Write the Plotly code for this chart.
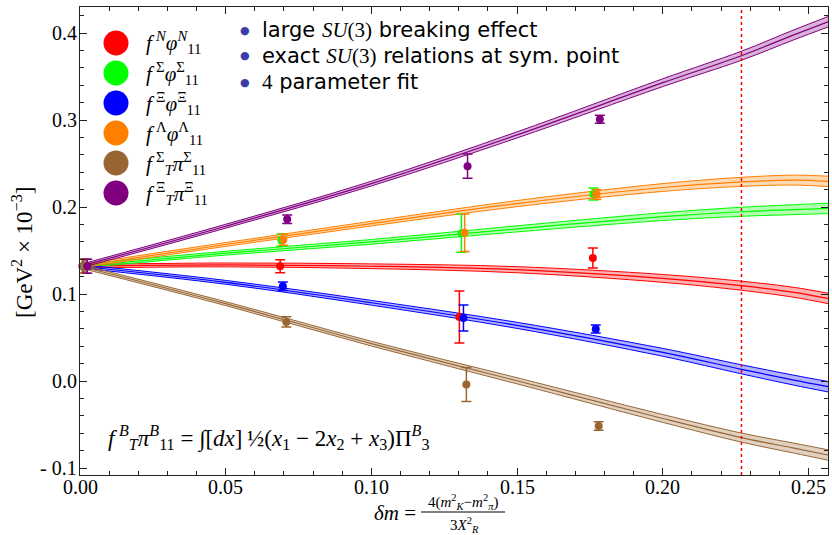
import plotly.graph_objects as go

# ---------------- data ----------------
# fit curves: central value sampled along delta m
fit_dm = [0.0, 0.05, 0.10, 0.15, 0.20, 0.227, 0.245, 0.2567]
fit_N      = [0.132, 0.1335, 0.132, 0.128, 0.118, 0.1096, 0.102, 0.095]
fit_Sigma  = [0.132, 0.147, 0.160, 0.175, 0.189, 0.1946, 0.197, 0.1985]
fit_Xi     = [0.132, 0.1135, 0.090, 0.064, 0.033, 0.0135, 0.001, -0.0065]
fit_Lambda = [0.132, 0.157, 0.181, 0.204, 0.2225, 0.229, 0.231, 0.2295]
fit_TSigma = [0.132, 0.089, 0.043, 0.0003, -0.043, -0.065, -0.0771, -0.085]
fit_TXi    = [0.132, 0.178, 0.227, 0.283, 0.343, 0.374, 0.398, 0.413]
band_halfwidth = [0.002, 0.0022, 0.0027, 0.0035, 0.0045, 0.0052, 0.0057, 0.006]

# lattice points (x slightly shifted per series as in the reference)
pts_dm_N      = [0.0008, 0.0687, 0.1302, 0.1760]
pts_N         = [0.132, 0.132, 0.0736, 0.1414]
err_N         = [0.008, 0.0075, 0.030, 0.0115]
pts_dm_Sigma  = [0.0012, 0.0691, 0.1309, 0.1762]
pts_Sigma     = [0.132, 0.162, 0.170, 0.215]
err_Sigma     = [0.008, 0.007, 0.022, 0.007]
pts_dm_Xi     = [0.0015, 0.0696, 0.1316, 0.1770]
pts_Xi        = [0.132, 0.109, 0.0724, 0.0598]
err_Xi        = [0.008, 0.005, 0.015, 0.0045]
pts_dm_Lambda = [0.0017, 0.0698, 0.1320, 0.1772]
pts_Lambda    = [0.132, 0.1625, 0.1705, 0.2146]
err_Lambda    = [0.008, 0.0065, 0.0215, 0.0055]
pts_dm_TSigma = [0.0021, 0.0708, 0.1326, 0.1780]
pts_TSigma    = [0.132, 0.068, -0.004, -0.0517]
err_TSigma    = [0.008, 0.006, 0.0195, 0.005]
pts_dm_TXi    = [0.0025, 0.0711, 0.1330, 0.1784]
pts_TXi       = [0.132, 0.186, 0.247, 0.301]
err_TXi       = [0.008, 0.005, 0.014, 0.0045]

physical_point = 0.227

TS = "\u2009"  # thin space so italic f does not collide with its superscript
legend_labels = [
    f"<i>f</i>{TS}<sup><i>N</i></sup><i>φ</i><sup><i>N</i></sup><sub>11</sub>",
    f"<i>f</i>{TS}<sup>Σ</sup><i>φ</i><sup>Σ</sup><sub>11</sub>",
    f"<i>f</i>{TS}<sup>Ξ</sup><i>φ</i><sup>Ξ</sup><sub>11</sub>",
    f"<i>f</i>{TS}<sup>Λ</sup><i>φ</i><sup>Λ</sup><sub>11</sub>",
    f"<i>f</i>{TS}<sup>Σ</sup><sub><i>T</i></sub><i>π</i><sup>Σ</sup><sub>11</sub>",
    f"<i>f</i>{TS}<sup>Ξ</sup><sub><i>T</i></sub><i>π</i><sup>Ξ</sup><sub>11</sub>",
]
colors = ["#ff0000", "#00ff00", "#0000ff", "#ff8000", "#996633", "#800080"]
fills = ["rgba(255,0,0,0.3)", "rgba(0,255,0,0.3)", "rgba(0,0,255,0.3)",
         "rgba(255,128,0,0.3)", "rgba(153,102,51,0.3)", "rgba(128,0,128,0.3)"]

MATH = "font-family:'Liberation Serif',serif"
notes = [f"large <span style=\"{MATH}\"><i>SU</i>(3)</span> breaking effect",
         f"exact <span style=\"{MATH}\"><i>SU</i>(3)</span> relations at sym. point",
         f"<span style=\"{MATH}\">4</span> parameter fit"]

x_tickvals = [0.0, 0.05, 0.10, 0.15, 0.20, 0.25]
x_ticktext = ["0.00", "0.05", "0.10", "0.15", "0.20", "0.25"]
y_tickvals = [-0.1, 0.0, 0.1, 0.2, 0.3, 0.4]
y_ticktext = ["- 0.1", "0.0", "0.1", "0.2", "0.3", "0.4"]

fits = [fit_N, fit_Sigma, fit_Xi, fit_Lambda, fit_TSigma, fit_TXi]
pts_x = [pts_dm_N, pts_dm_Sigma, pts_dm_Xi, pts_dm_Lambda, pts_dm_TSigma, pts_dm_TXi]
pts_y = [pts_N, pts_Sigma, pts_Xi, pts_Lambda, pts_TSigma, pts_TXi]
pts_e = [err_N, err_Sigma, err_Xi, err_Lambda, err_TSigma, err_TXi]

# ---------------- figure ----------------
W, H = 832, 535
ML, MR, MT, MB = 80, 4, 7, 60
PW, PH = W - ML - MR, H - MT - MB


def px(xp):
    return (xp - ML) / PW


def py(yp):
    return (H - MB - yp) / PH


SERIF = "Liberation Serif, Times New Roman, serif"
SANS = "DejaVu Sans, sans-serif"
fig = go.Figure()

for fit, col, fc in zip(fits, colors, fills):
    up = [c + h for c, h in zip(fit, band_halfwidth)]
    lo = [c - h for c, h in zip(fit, band_halfwidth)]
    fig.add_trace(go.Scatter(x=fit_dm, y=up, mode="lines",
                             line=dict(color=col, width=1, shape="spline"),
                             showlegend=False, hoverinfo="skip"))
    fig.add_trace(go.Scatter(x=fit_dm, y=lo, mode="lines", fill="tonexty",
                             fillcolor=fc,
                             line=dict(color=col, width=1, shape="spline"),
                             showlegend=False, hoverinfo="skip"))
    fig.add_trace(go.Scatter(x=fit_dm, y=fit, mode="lines",
                             line=dict(color=col, width=1.2, shape="spline"),
                             showlegend=False, hoverinfo="skip"))

for xs, ys, es, col in zip(pts_x, pts_y, pts_e, colors):
    fig.add_trace(go.Scatter(x=xs, y=ys, mode="markers",
                             marker=dict(color=col, size=8),
                             error_y=dict(type="data", array=es, color=col,
                                          thickness=1.5, width=5),
                             cliponaxis=False, showlegend=False))

fig.add_vline(x=physical_point, line=dict(color="red", width=1.5, dash="dot"))

shapes = []
annotations = []

# tick labels placed through the axes' own scales
for v, t in zip(x_tickvals, x_ticktext):
    annotations.append(dict(xref="x", yref="paper", x=v, y=py(487),
                            xanchor="center", yanchor="middle", showarrow=False,
                            text=t, font=dict(family=SERIF, size=20, color="black")))
for v, t in zip(y_tickvals, y_ticktext):
    annotations.append(dict(xref="paper", yref="y", x=px(79), y=v,
                            xanchor="right", yanchor="middle", showarrow=False,
                            text=t, font=dict(family=SERIF, size=20, color="black")))

# legend box
shapes.append(dict(type="rect", xref="paper", yref="paper",
                   x0=px(97), x1=px(220), y0=py(210), y1=py(27),
                   line=dict(color="black", width=1), fillcolor="white", layer="above"))
row_y = [43, 73, 103, 133, 163, 193]
for ry, col, lab in zip(row_y, colors, legend_labels):
    shapes.append(dict(type="circle", xref="paper", yref="paper",
                       x0=px(116 - 12.5), x1=px(116 + 12.5),
                       y0=py(ry + 12.5), y1=py(ry - 12.5),
                       fillcolor=col, line=dict(color=col, width=0), layer="above"))
    annotations.append(dict(xref="paper", yref="paper", x=px(144), y=py(ry),
                            xanchor="left", yanchor="middle", showarrow=False,
                            text=lab, font=dict(family=SERIF, size=21, color="black")))

# bullet notes
for i, t in enumerate(notes):
    yy = 30 + 26 * i
    annotations.append(dict(xref="paper", yref="paper", x=px(245), y=py(yy),
                            xanchor="center", yanchor="middle", showarrow=False,
                            text="●", font=dict(family="DejaVu Sans", size=11, color="#3c3ca8")))
    annotations.append(dict(xref="paper", yref="paper", x=px(260), y=py(yy),
                            xanchor="left", yanchor="middle", showarrow=False,
                            text=t, font=dict(family=SANS, size=21, color="black")))

# formula
annotations.append(dict(xref="paper", yref="paper", x=px(106), y=py(437),
                        xanchor="left", yanchor="middle", showarrow=False,
                        text=f"<i>f</i>{TS}<sup><i>B</i></sup><sub><i>T</i></sub><i>π</i><sup><i>B</i></sup><sub>11</sub> = ∫[<i>dx</i>]{TS}½(<i>x</i><sub>1</sub> − 2<i>x</i><sub>2</sub> + <i>x</i><sub>3</sub>)Π<sup><i>B</i></sup><sub>3</sub>",
                        font=dict(family=SERIF, size=23, color="black")))

# x-axis title (fraction)
annotations.append(dict(xref="paper", yref="paper", x=px(418), y=py(513),
                        xanchor="right", yanchor="middle", showarrow=False,
                        text="<i>δm</i> =", font=dict(family=SERIF, size=21, color="black")))
annotations.append(dict(xref="paper", yref="paper", x=px(463), y=py(502),
                        xanchor="center", yanchor="middle", showarrow=False,
                        text="4(<i>m</i><sup>2</sup><sub><i>K</i></sub>−<i>m</i><sup>2</sup><sub><i>π</i></sub>)",
                        font=dict(family=SERIF, size=15, color="black")))
shapes.append(dict(type="line", xref="paper", yref="paper",
                   x0=px(421), x1=px(505), y0=py(512), y1=py(512),
                   line=dict(color="black", width=1)))
annotations.append(dict(xref="paper", yref="paper", x=px(465), y=py(525),
                        xanchor="center", yanchor="middle", showarrow=False,
                        text="3<i>X</i><sup>2</sup><sub><i>R</i></sub>",
                        font=dict(family=SERIF, size=15, color="black")))

# y-axis title
annotations.append(dict(xref="paper", yref="paper", x=px(22), y=py(253),
                        xanchor="center", yanchor="middle", showarrow=False,
                        textangle=-90,
                        text="[GeV<sup>2</sup> × 10<sup>−3</sup>]",
                        font=dict(family=SERIF, size=23, color="black")))

axis_common = dict(showline=True, linecolor="#222", linewidth=1, mirror="allticks",
                   ticks="inside", ticklen=7, tickwidth=1, tickcolor="#222",
                   showgrid=False, zeroline=False, showticklabels=False)

fig.update_layout(
    width=W, height=H,
    margin=dict(l=ML, r=MR, t=MT, b=MB),
    paper_bgcolor="white", plot_bgcolor="white",
    showlegend=False,
    xaxis=dict(range=[0, 0.2567], tickmode="array", tickvals=x_tickvals,
               minor=dict(tickmode="linear", tick0=0, dtick=0.01, ticks="inside",
                          ticklen=4, tickcolor="#222", showgrid=False),
               **axis_common),
    yaxis=dict(range=[-0.108, 0.43], tickmode="array", tickvals=y_tickvals,
               minor=dict(tickmode="linear", tick0=0, dtick=0.02, ticks="inside",
                          ticklen=4, tickcolor="#222", showgrid=False),
               **axis_common),
    shapes=shapes,
    annotations=annotations,
)

fig.write_html("out.html")
